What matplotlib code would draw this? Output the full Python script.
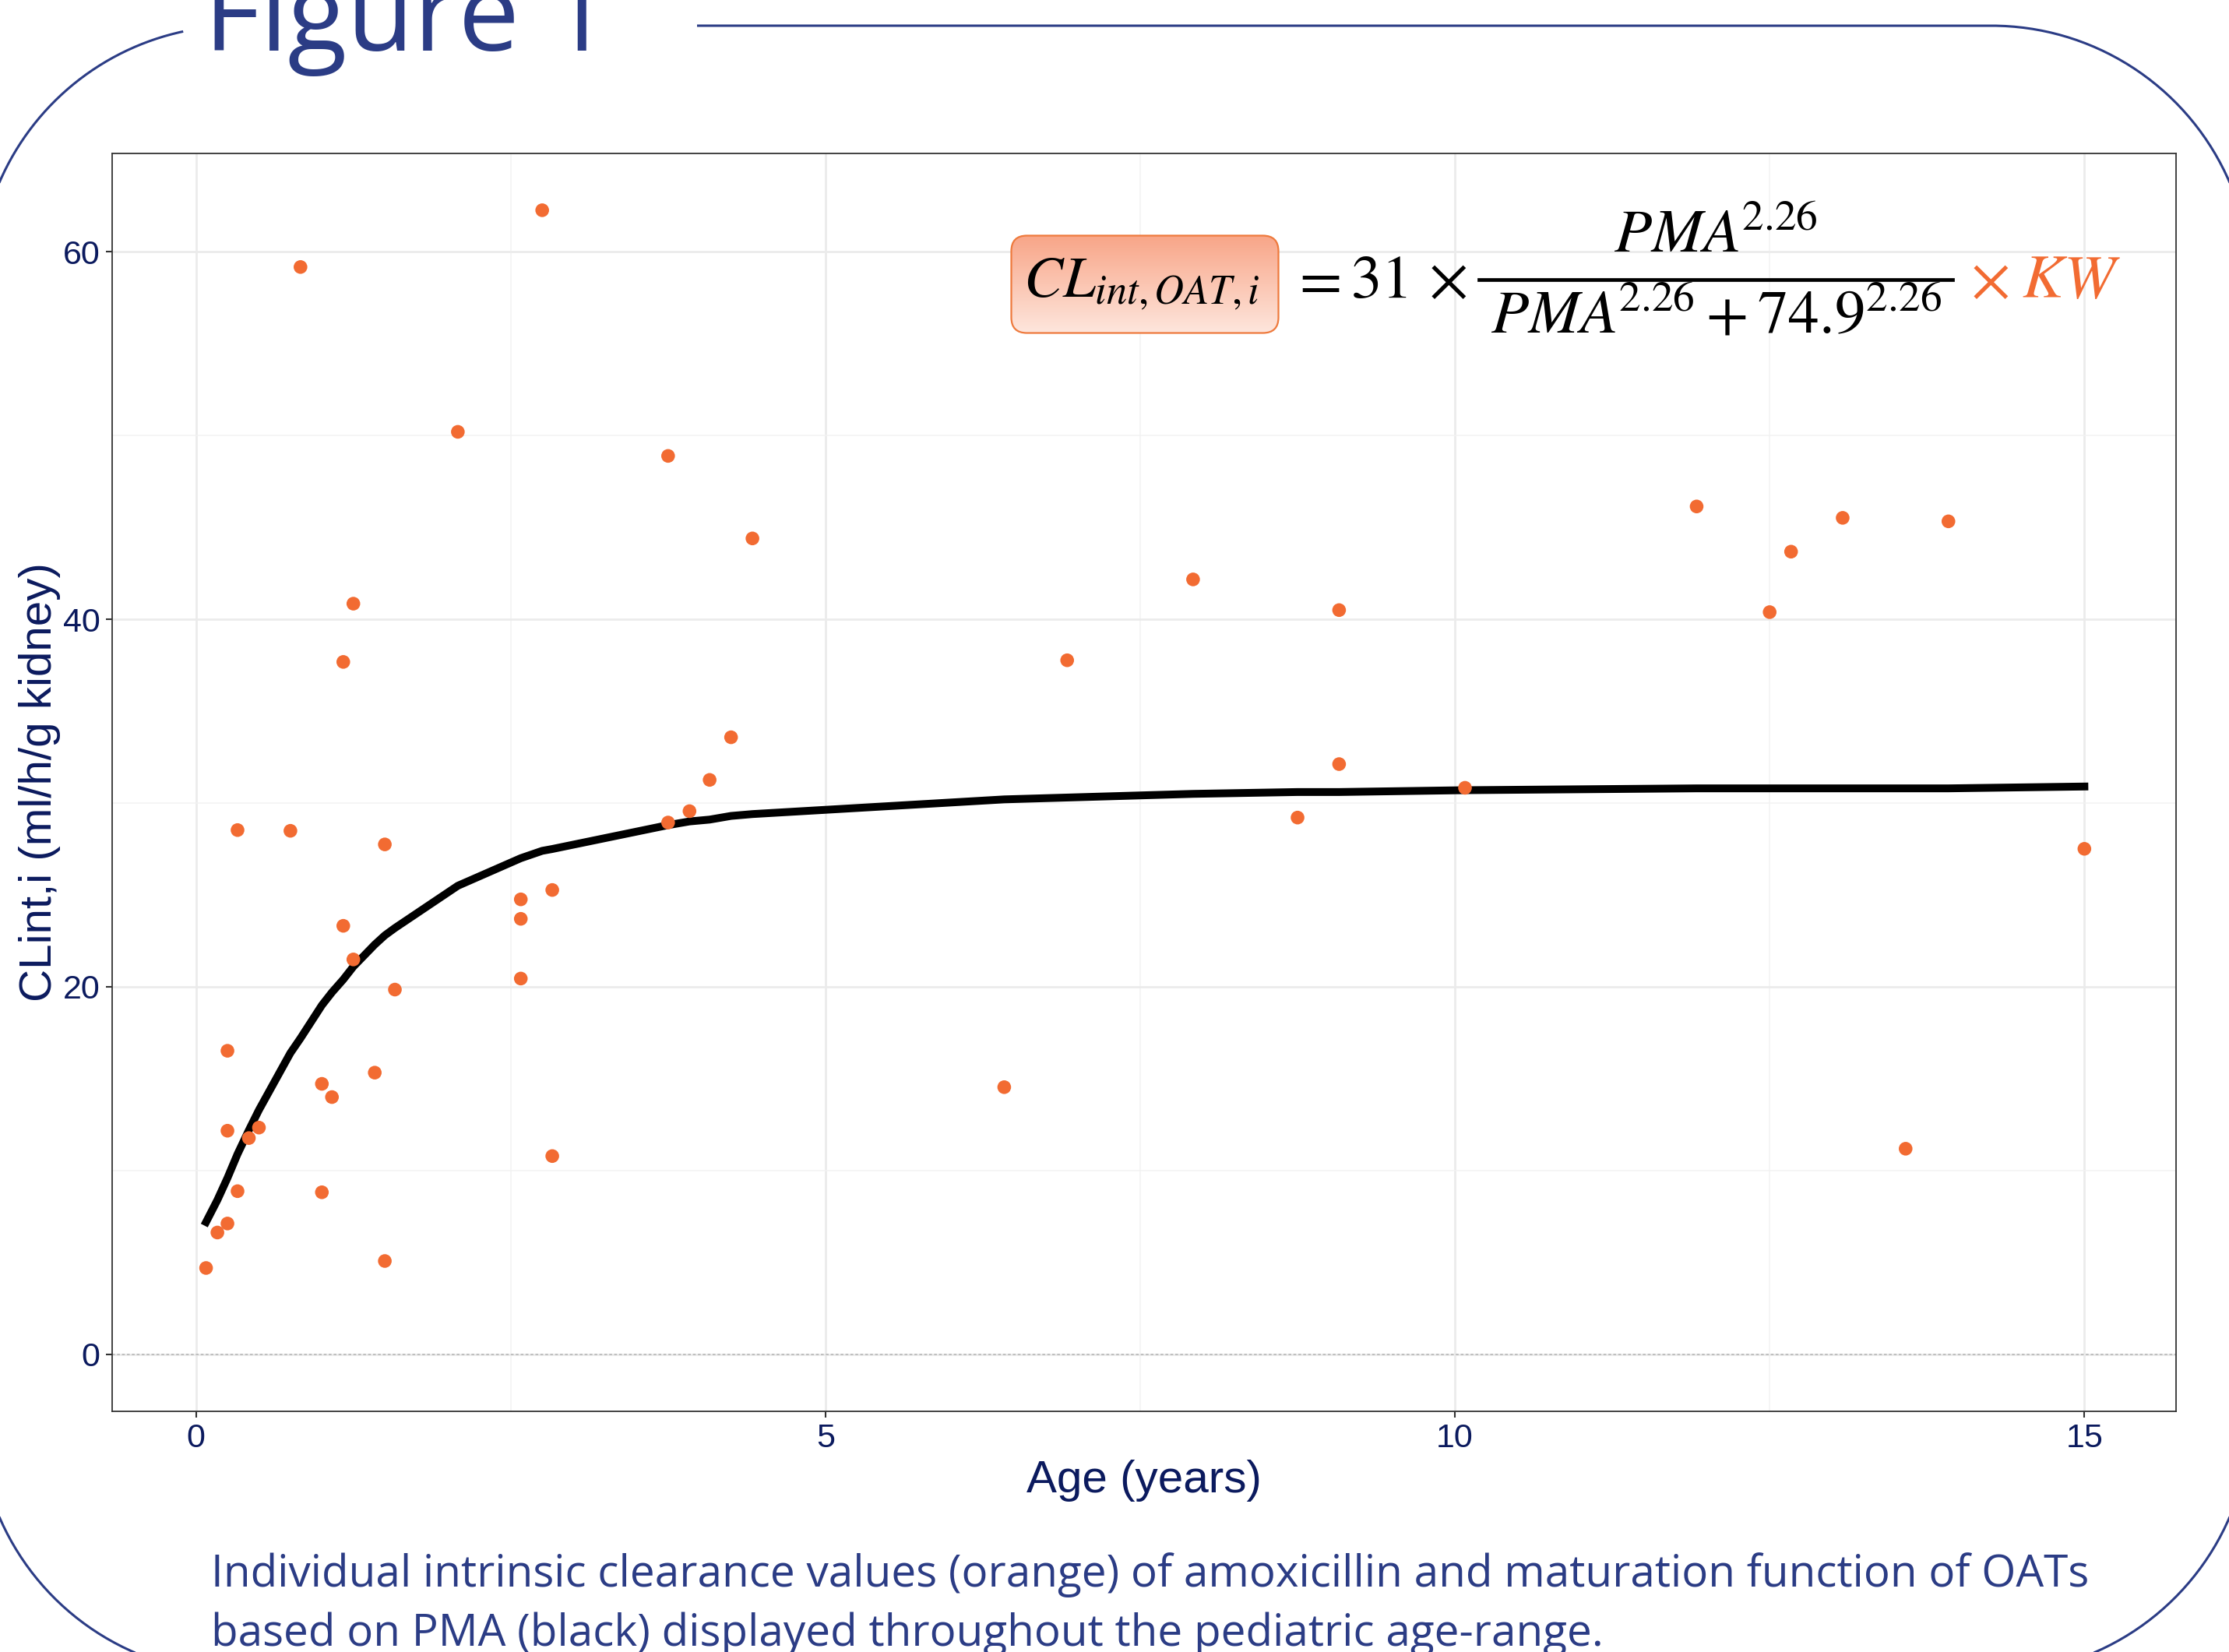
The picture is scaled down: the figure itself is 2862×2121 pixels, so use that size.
import numpy as np
import matplotlib
matplotlib.use("Agg")
import matplotlib.pyplot as plt
from matplotlib.patches import FancyBboxPatch
from matplotlib.colors import LinearSegmentedColormap

# individual intrinsic clearance values (orange points)
age = [0.08, 0.17, 0.25, 0.33, 0.25, 0.42, 0.50, 0.25, 0.33, 0.75,
       0.83, 1.00, 1.08, 1.00, 1.17, 1.25, 1.17, 1.25, 1.42, 1.50,
       1.58, 1.50, 2.08, 2.58, 2.58, 2.58, 2.83, 2.83, 2.75, 3.75,
       3.75, 3.92, 4.08, 4.25, 4.42, 6.42, 6.92, 7.92, 8.75, 9.08,
       9.08, 10.08, 11.92, 12.50, 12.67, 13.08, 13.92, 13.58, 15.00]
clint = [4.70, 6.63, 7.12, 8.88, 12.17, 11.77, 12.34, 16.52, 28.53, 28.49,
         59.17, 14.72, 14.00, 8.82, 37.68, 40.85, 23.32, 21.49, 15.33, 27.75,
         19.85, 5.08, 50.20, 24.76, 23.70, 20.45, 25.27, 10.79, 62.26, 48.89,
         28.94, 29.56, 31.26, 33.58, 44.40, 14.54, 37.77, 42.17, 29.21, 40.50,
         32.12, 30.83, 46.14, 40.39, 43.68, 45.52, 45.33, 11.19, 27.51]

# maturation function (black line)
line_age = [0.08, 0.17, 0.25, 0.33, 0.42, 0.50, 0.75, 0.83, 1.00, 1.08,
            1.17, 1.25, 1.42, 1.50, 1.58, 2.08, 2.58, 2.75, 2.83, 3.75,
            3.92, 4.08, 4.25, 4.42, 6.42, 6.92, 7.92, 8.75, 9.08, 10.08,
            11.92, 12.50, 12.67, 13.08, 13.58, 13.92, 15.00]
line_clint = [7.2, 8.4, 9.6, 10.9, 12.2, 13.3, 16.4, 17.2, 19.0, 19.7,
              20.4, 21.1, 22.3, 22.8, 23.2, 25.5, 27.0, 27.4, 27.5, 28.8,
              29.0, 29.1, 29.3, 29.4, 30.2, 30.3, 30.5, 30.6, 30.6, 30.7,
              30.8, 30.8, 30.8, 30.8, 30.8, 30.8, 30.9]

x_ticks = [0, 5, 10, 15]
y_ticks = [0, 20, 40, 60]

W, H = 2862, 2121
NAVY = '#2B3C85'
LABEL = '#0B1A5E'
ORANGE = '#F26B32'

plt.rcParams['font.family'] = ['Liberation Sans', 'DejaVu Sans']
plt.rcParams['mathtext.fontset'] = 'stix'

fig = plt.figure(figsize=(W / 100, H / 100), dpi=100, facecolor='white')


def fx(px):
    return px / W


def fy(py):
    return 1 - py / H


def arc(cx, cy, r, a0, a1):
    t = np.radians(np.linspace(a0, a1, 90))
    return cx + r * np.cos(t), cy + r * np.sin(t)


# slide frame: rounded rectangle in pixel coords, open where the title sits
bg = fig.add_axes([0, 0, 1, 1], zorder=0)
bg.set_xlim(0, W)
bg.set_ylim(H, 0)
bg.axis('off')
R = 333
xl, xr, yt, yb = -28, 2890, 33, 2149
parts = [
    ([895, xr - R], [yt, yt]),
    arc(xr - R, yt + R, R, -90, 0),
    ([xr, xr], [yt + R, yb - R]),
    arc(xr - R, yb - R, R, 0, 90),
    ([xr - R, xl + R], [yb, yb]),
    arc(xl + R, yb - R, R, 90, 180),
    ([xl, xl], [yb - R, yt + R]),
    arc(xl + R, yt + R, R, 180, 257.9),
]
px = np.concatenate([np.asarray(p[0], float) for p in parts])
py = np.concatenate([np.asarray(p[1], float) for p in parts])
bg.plot(px, py, color=NAVY, lw=2.2, solid_capstyle='butt')

# main plot
ax = fig.add_axes([fx(144), fy(1812), fx(2794 - 144), (1812 - 197) / H], zorder=1)
ax.set_xlim(-0.666, 15.728)
ax.set_ylim(-3.1, 65.35)
ax.set_xticks(x_ticks)
ax.set_yticks(y_ticks)
ax.set_xticks([2.5, 7.5, 12.5], minor=True)
ax.set_yticks([10, 30, 50], minor=True)
ax.grid(which='major', color='#EBEBEB', lw=2.0)
ax.grid(which='minor', color='#F2F2F2', lw=1.1)
ax.set_axisbelow(True)
for s in ax.spines.values():
    s.set_color('#333333')
    s.set_linewidth(1.3)
ax.tick_params(which='major', length=6, width=1.5, color='#333333',
               labelsize=31, labelcolor=LABEL, pad=5)
ax.tick_params(which='minor', length=0)

ax.axhline(0, color='#BBBBBB', lw=1.3, ls=(0, (2, 1.5)), zorder=1)
ax.plot(line_age, line_clint, color='black', lw=7.2, zorder=2,
        solid_joinstyle='round')
ax.scatter(age, clint, s=160, color=ORANGE, edgecolors='none', zorder=3)

ax.set_xlabel('Age (years)', fontsize=42, color=LABEL, labelpad=5)
ax.set_ylabel('CLint,i (ml/h/g kidney)', fontsize=42, color=LABEL, labelpad=2)

# formula box with gradient fill
bx0, by0, bx1, by1 = 1297, 301, 1643, 429
bax = fig.add_axes([fx(bx0), fy(by1), fx(bx1 - bx0), (by1 - by0) / H], zorder=2)
bax.set_xlim(0, bx1 - bx0)
bax.set_ylim(0, by1 - by0)
bax.axis('off')
box = FancyBboxPatch((1.5, 1.5), bx1 - bx0 - 3, by1 - by0 - 3,
                     boxstyle='round,pad=0,rounding_size=20',
                     facecolor='none', edgecolor='#EE7A3D', lw=1.6, zorder=3)
bax.add_patch(box)
grad_cmap = LinearSegmentedColormap.from_list('g', ['#F8A486', '#FEE7DE'])
im = bax.imshow(np.linspace(0, 1, 256).reshape(-1, 1), cmap=grad_cmap,
                extent=[0, bx1 - bx0, 0, by1 - by0], aspect='auto',
                origin='upper', zorder=1)
im.set_clip_path(box)

base = fy(382)
fs = 57
fig.text(fx(1314), base, r'$CL_{int,OAT,i}$', fontsize=54, color='black',
         ha='left', va='baseline', zorder=10)
for xpos, s in [(1657, r'$=$'), (1734, r'$31$'), (1834, r'$\times$')]:
    fig.text(fx(xpos), base, s, fontsize=fs, color='black',
             ha='left', va='baseline', zorder=10)
fig.text(fx(2203), fy(324), r'$PMA^{\!2.26}$', fontsize=fs, color='black',
         ha='center', va='baseline', zorder=10)
fig.text(fx(2203), fy(428), r'$PMA^{\!2.26} + 74.9^{2.26}$', fontsize=fs,
         color='black', ha='center', va='baseline', zorder=10)
fig.add_artist(plt.Line2D([fx(1899), fx(2507)], [fy(359), fy(359)],
                          color='black', lw=3.4, transform=fig.transFigure,
                          zorder=10))
fig.text(fx(2530), base, r'$\times\;KW$', fontsize=fs, color=ORANGE,
         ha='left', va='baseline', zorder=10)

# title and caption
title = fig.text(fx(262), fy(65), 'Figure 1', family=['Open Sans', 'DejaVu Sans'],
                 fontsize=95, color=NAVY, ha='left', va='baseline', zorder=10)
cap1 = fig.text(fx(271), fy(2037),
                'Individual intrinsic clearance values (orange) of amoxicillin '
                'and maturation function of OATs',
                family=['Open Sans', 'DejaVu Sans'], fontsize=36, color=NAVY,
                ha='left', va='baseline', zorder=10)
cap2 = fig.text(fx(271), fy(2113),
                'based on PMA (black) displayed throughout the pediatric age-range.',
                family=['Open Sans', 'DejaVu Sans'], fontsize=36, color=NAVY,
                ha='left', va='baseline', zorder=10)

# scale title and caption so their widths match the slide
renderer = fig.canvas.get_renderer()
for t, target in [(title, 522), (cap1, 2412)]:
    w = t.get_window_extent(renderer=renderer).width
    t.set_fontsize(t.get_fontsize() * target / w)
cap2.set_fontsize(cap1.get_fontsize())

fig.savefig('out.png', dpi=100, facecolor='white')
